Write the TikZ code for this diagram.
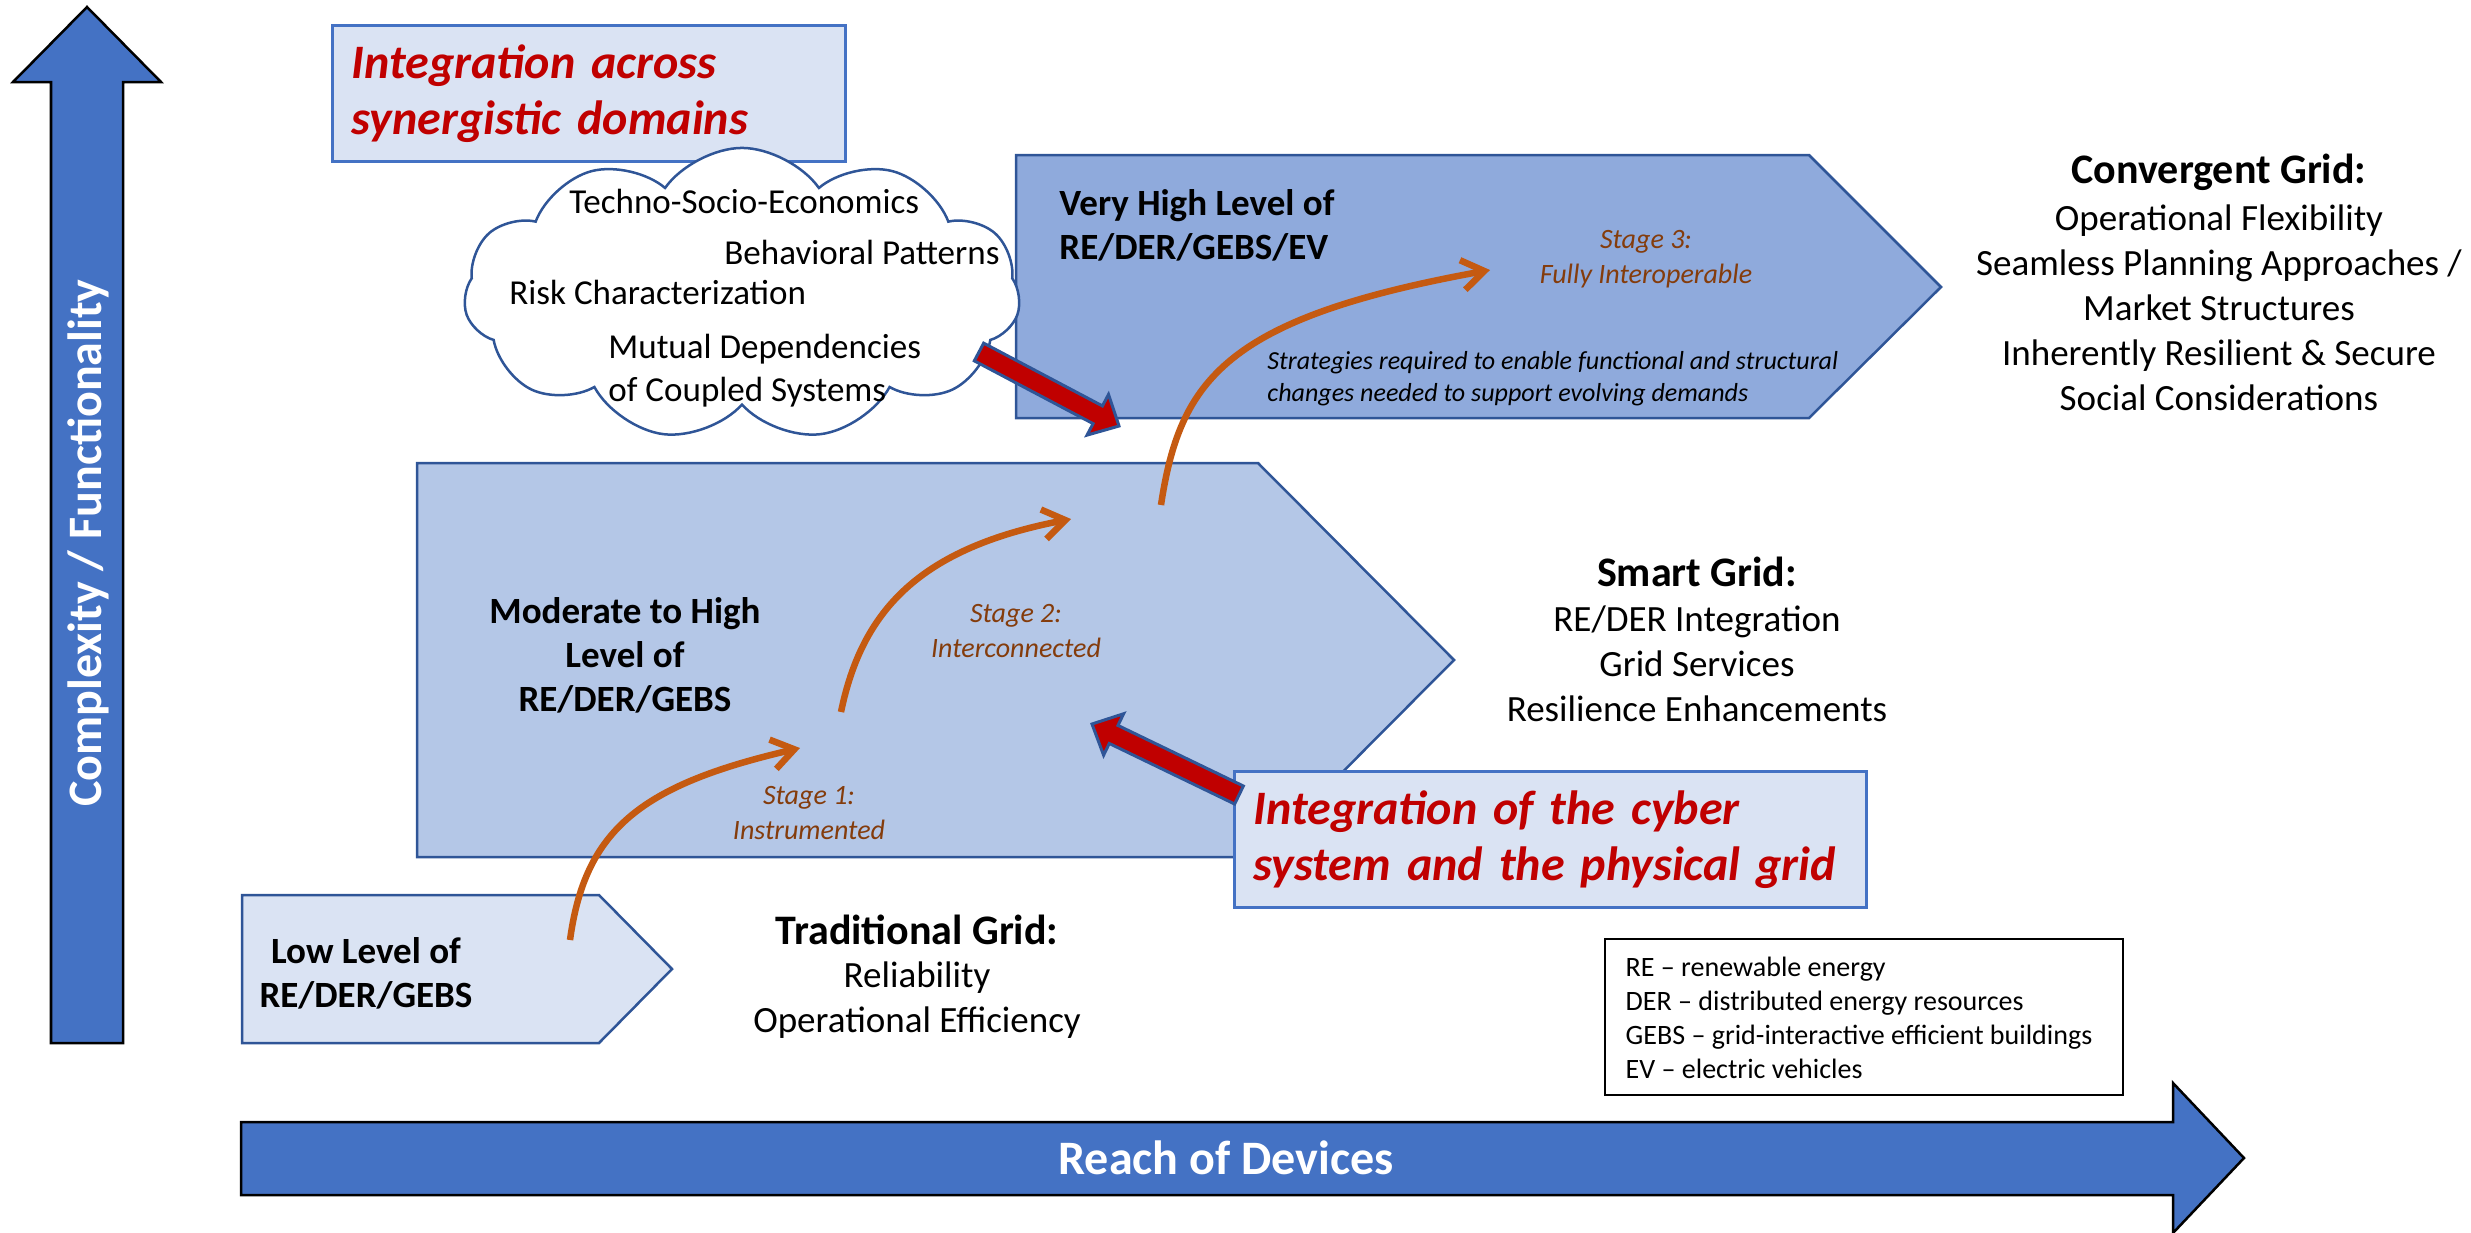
\documentclass[tikz,border=0pt]{standalone}
\usepackage{fontspec}
\setmainfont{Carlito}
\usetikzlibrary{calc,arrows.meta,shapes.symbols}

\definecolor{axisblue}{HTML}{4472C4}
\definecolor{edgeblue}{HTML}{2F5597}
\definecolor{lowfill}{HTML}{DAE3F3}
\definecolor{midfill}{HTML}{B4C7E7}
\definecolor{highfill}{HTML}{8FAADC}
\definecolor{stageorange}{HTML}{C55A11}
\definecolor{stagebrown}{HTML}{843C0C}
\definecolor{callred}{HTML}{C00000}

\tikzset{
  axis arrow/.style={draw=black, fill=axisblue, line width=0.025cm},
  axis label/.style={text=white, font=\fontsize{13.66}{16}\selectfont\bfseries},
  level/.style={draw=edgeblue, line width=0.025cm},
  level label/.style={font=\fontsize{10.53}{12.5}\selectfont\bfseries, align=center},
  grid title/.style={font=\fontsize{11.95}{14}\selectfont\bfseries},
  grid list/.style={font=\fontsize{10.53}{12.8}\selectfont, align=center},
  stage path/.style={draw=stageorange, line width=0.065cm, -{Straight Barb[length=0.22cm,width=0.3cm]}},
  stage label/.style={text=stagebrown, font=\fontsize{7.97}{9.96}\selectfont\itshape, align=center},
  callout box/.style={draw=axisblue, fill=lowfill, line width=0.03cm, inner xsep=0.19cm, align=left,
    text=callred, font=\fontsize{13.66}{16}\selectfont\bfseries\itshape, anchor=north west},
  callout arrow/.style={draw=edgeblue, fill=callred, line width=0.03cm},
  cloud text/.style={font=\fontsize{9.96}{12.2}\selectfont, anchor=west, align=left},
  legend frame/.style={draw=black, fill=white, line width=0.02cm},
  legend text/.style={font=\fontsize{7.97}{9.67}\selectfont, align=left, anchor=west, inner xsep=0pt}
}

\newcommand{\calloutarrow}[2]{%
  \coordinate (headbase) at ($(#2)!0.24cm!(#1)$);
  \draw[callout arrow] ($(#1)!0.1cm!90:(#2)$) -- ($(headbase)!0.1cm!90:(#2)$)
    -- ($(headbase)!0.23cm!90:(#2)$) -- (#2) -- ($(headbase)!0.23cm!-90:(#2)$)
    -- ($(headbase)!0.1cm!-90:(#2)$) -- ($(#1)!0.1cm!-90:(#2)$) -- cycle;
}

\begin{document}
\begin{tikzpicture}[x=0.01cm, y=-0.01cm]
\useasboundingbox (0,0) rectangle (2471,1232);

% axes
\draw[axis arrow] (51,1043) -- (51,82) -- (13,82) -- (87,7) -- (161,82) -- (123,82) -- (123,1043) -- cycle;
\node[axis label, rotate=90] (complexity) at (88,543) {Complexity / Functionality};
\draw[axis arrow] (241,1122) -- (2173,1122) -- (2173,1083) -- (2244,1158) -- (2173,1233) -- (2173,1195) -- (241,1195) -- cycle;
\node[axis label] (reach) at (1226,1158) {Reach of Devices};

\node[callout box, minimum height=1.36cm, text width=4.75cm] (synergy) at (331,24) {Integration across\\synergistic domains};

% levels
\draw[level, fill=highfill] (1016,155) -- (1809,155) -- (1941,287) -- (1809,418) -- (1016,418) -- cycle;
\draw[level, fill=midfill] (417,463) -- (1258,463) -- (1454,660) -- (1258,857) -- (417,857) -- cycle;
\draw[level, fill=lowfill] (242,895) -- (599,895) -- (672,969) -- (599,1043) -- (242,1043) -- cycle;

\node[cloud, draw=edgeblue, fill=white, line width=0.025cm, cloud puffs=11, cloud puff arc=110,
  cloud ignores aspect, minimum width=5.56cm, minimum height=2.92cm] (cloud) at (742,294) {};
\node[cloud text] (techno) at (557,201) {Techno-Socio-Economics};
\node[cloud text] (behavior) at (712,252) {Behavioral Patterns};
\node[cloud text] (risk) at (497,292) {Risk Characterization};
\node[cloud text] (mutual) at (596,371) {Mutual Dependencies\\of Coupled Systems};

\node[callout box, minimum height=1.36cm, text width=5.94cm] (cyber) at (1233,770) {Integration of the cyber\\system and the physical grid};

\coordinate (cloudtail) at (979,352);
\coordinate (hightip) at (1119,426);
\coordinate (cybertail) at (1239,795);
\coordinate (midtip) at (1092,724);
\calloutarrow{cloudtail}{hightip}
\calloutarrow{cybertail}{midtip}

% stages
\coordinate (s1from) at (570,940);
\coordinate (s1to) at (800,748);
\coordinate (s2from) at (841,712);
\coordinate (s2to) at (1071,519);
\coordinate (s3from) at (1161,505);
\coordinate (s3to) at (1490,270);
\draw[stage path] (s1from) .. controls (585,830) and (640,785) .. (s1to);
\draw[stage path] (s2from) .. controls (862,610) and (920,548) .. (s2to);
\draw[stage path] (s3from) .. controls (1180,380) and (1225,318) .. (s3to);
\node[stage label] (stage1) at (809,813) {Stage 1:\\Instrumented};
\node[stage label] (stage2) at (1016,631) {Stage 2:\\Interconnected};
\node[stage label] (stage3) at (1646,259) {Stage 3:\\Fully Interoperable};
\node[font=\fontsize{7.4}{9.1}\selectfont\itshape, align=left, anchor=west] (strategies) at (1255,379)
  {Strategies required to enable functional and structural\\changes needed to support evolving demands};

\node[level label] (lowlevel) at (366,973) {Low Level of\\RE/DER/GEBS};
\node[level label] (midlevel) at (625,655) {Moderate to High\\Level of\\RE/DER/GEBS};
\node[level label, align=left, anchor=west] (highlevel) at (1047,225) {Very High Level of\\RE/DER/GEBS/EV};

% grids
\node[grid title] (traditional) at (917,930) {Traditional Grid:};
\node[grid list] (traditionallist) at (917,1000) {Reliability\\Operational Efficiency};
\node[grid title] (smart) at (1697,572) {Smart Grid:};
\node[grid list] (smartlist) at (1697,664) {RE/DER Integration\\Grid Services\\Resilience Enhancements};
\node[grid title] (convergent) at (2219,172) {Convergent Grid:};
\node[grid list] (convergentlist) at (2219,308) {Operational Flexibility\\Seamless Planning Approaches /\\Market Structures\\Inherently Resilient \& Secure\\Social Considerations};

\draw[legend frame] (1605,939) rectangle (2123,1095);
\node[legend text] (legend) at (1625,1018)
  {RE -- renewable energy\\DER -- distributed energy resources\\GEBS -- grid-interactive efficient buildings\\EV -- electric vehicles};
\end{tikzpicture}
\end{document}
